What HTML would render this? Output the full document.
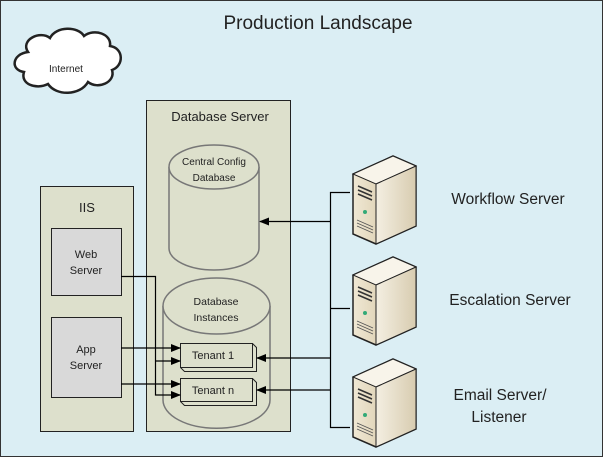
<!DOCTYPE html>
<html><head><style>body{margin:0}svg{display:block}text{font-family:"Liberation Sans",sans-serif;fill:#222}</style></head><body>
<svg width="603" height="457" viewBox="0 0 603 457" xmlns="http://www.w3.org/2000/svg">
<defs>
<marker id="a" markerWidth="10" markerHeight="8" refX="9" refY="4" orient="auto" markerUnits="userSpaceOnUse"><path d="M0,0 L10,4 L0,8z" fill="#000"/></marker>
<linearGradient id="sf" x1="0" x2="1"><stop offset="0" stop-color="#f4efe2"/><stop offset="1" stop-color="#d8ccb0"/></linearGradient>
<linearGradient id="ss" x1="0" x2="1"><stop offset="0" stop-color="#f0e8d4"/><stop offset="1" stop-color="#c8b790"/></linearGradient>
<g id="srv">
<path d="M0,18 L40,0 L63,10 L63,70 L23,88 L0,78z" fill="url(#ss)" stroke="#222" stroke-width="1.5"/>
<path d="M0,18 L40,0 L63,10 L23,28z" fill="#f8f4ea" stroke="#222" stroke-width="1"/>
<path d="M23,28 L63,10 L63,70 L23,88z" fill="url(#sf)" stroke="#222" stroke-width="1"/>
<path d="M5,30 L19,36 M5,34 L19,40 M5,38 L19,44" stroke="#333" stroke-width="1.5"/>
<circle cx="12" cy="56" r="2" fill="#3a7"/>
<path d="M4,64 L20,71 M4,67 L20,74 M4,70 L20,77" stroke="#555" stroke-width="0.8"/>
</g>
</defs>
<rect x="0.5" y="0.5" width="602" height="456" fill="#dbeef4" stroke="#333"/>
<text x="318" y="29" font-size="19" text-anchor="middle">Production Landscape</text>
<path d="M28,52 C20,40 40,30 50,38 C56,26 78,26 84,36 C94,28 112,34 110,46 C124,48 124,66 112,70 C116,82 98,90 88,82 C80,96 56,96 48,84 C36,90 20,84 24,72 C10,70 12,54 28,52z" fill="#fff" stroke="#222" stroke-width="2.5"/>
<text x="66" y="72" font-size="10" text-anchor="middle">Internet</text>
<rect x="146.5" y="100.5" width="144" height="331" fill="#dde0cc" stroke="#222"/>
<text x="220" y="121" font-size="13" text-anchor="middle">Database Server</text>
<rect x="40.5" y="186.5" width="93" height="245" fill="#dde0cc" stroke="#222"/>
<text x="87" y="212" font-size="13" text-anchor="middle">IIS</text>
<rect x="51.5" y="228.5" width="70" height="67" fill="#d9d9d9" stroke="#222"/>
<text x="86" y="258" font-size="11" text-anchor="middle">Web</text><text x="86" y="274" font-size="11" text-anchor="middle">Server</text>
<rect x="51.5" y="317.5" width="70" height="80" fill="#d9d9d9" stroke="#222"/>
<text x="86" y="353" font-size="11" text-anchor="middle">App</text><text x="86" y="369" font-size="11" text-anchor="middle">Server</text>
<path d="M169,167 L169,248 A45,22 0 0 0 259,248 L259,167" fill="#dde0cc" stroke="#777" stroke-width="1.5"/>
<ellipse cx="214" cy="167" rx="45" ry="22" fill="#dde0cc" stroke="#777" stroke-width="1.5"/>
<text x="214" y="165" font-size="10" text-anchor="middle">Central Config</text><text x="214" y="181" font-size="10" text-anchor="middle">Database</text>
<path d="M163,306 L163,400 A53,28 0 0 0 270,400 L270,306" fill="#dde0cc" stroke="#777" stroke-width="1.5"/>
<ellipse cx="216.5" cy="306" rx="53.5" ry="28" fill="#dde0cc" stroke="#777" stroke-width="1.5"/>
<text x="216" y="305" font-size="10.5" text-anchor="middle">Database</text><text x="216" y="321" font-size="10.5" text-anchor="middle">Instances</text>
<g stroke="#222" fill="#dde0cc">
<path d="M180.5,343.5 L252.5,343.5 L256.5,347.5 L256.5,371.5 L184.5,371.5 L180.5,367.5z"/>
<rect x="180.5" y="343.5" width="72" height="24"/>
<path d="M180.5,378.5 L252.5,378.5 L256.5,382.5 L256.5,405.5 L184.5,405.5 L180.5,401.5z"/>
<rect x="180.5" y="378.5" width="72" height="23"/>
</g>
<text x="213" y="359" font-size="11" text-anchor="middle">Tenant 1</text>
<text x="213" y="394" font-size="11" text-anchor="middle">Tenant n</text>
<g stroke="#000" stroke-width="1.2" fill="none">
<path d="M121,276.5 H155.5 V395 H180" marker-end="url(#a)"/>
<path d="M155.5,361 H180" marker-end="url(#a)"/>
<path d="M121,348 H180" marker-end="url(#a)"/>
<path d="M121,384 H180" marker-end="url(#a)"/>
<path d="M350,192.5 H330.5 V427.5 H350"/>
<path d="M350,308.5 H330.5"/>
<path d="M330.5,221.5 H260" marker-end="url(#a)"/>
<path d="M330.5,358 H257" marker-end="url(#a)"/>
<path d="M330.5,390 H257" marker-end="url(#a)"/>
</g>
<use href="#srv" x="353" y="156"/>
<use href="#srv" x="353" y="257"/>
<use href="#srv" x="353" y="359"/>
<text x="508" y="204" font-size="15.5" text-anchor="middle">Workflow Server</text>
<text x="510" y="305" font-size="15.5" text-anchor="middle">Escalation Server</text>
<text x="500" y="400" font-size="15.5" text-anchor="middle">Email Server/</text>
<text x="499" y="422" font-size="15.5" text-anchor="middle">Listener</text>
</svg>
</body></html>
